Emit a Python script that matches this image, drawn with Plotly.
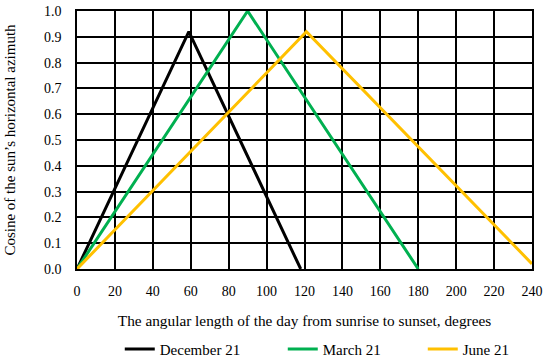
import plotly.graph_objects as go

dec_x = [0, 59, 118]
dec_y = [0, 0.92, 0]
mar_x = [0, 90, 180]
mar_y = [0, 1.0, 0]
jun_x = [0, 121, 240]
jun_y = [0, 0.92, 0.02]

x_ticks = list(range(0, 241, 20))
y_ticks = [round(i * 0.1, 1) for i in range(11)]
y_labels = [f"{v:.1f}" for v in y_ticks]

FONT = "Liberation Serif"

fig = go.Figure()
fig.add_trace(go.Scatter(x=dec_x, y=dec_y, mode="lines", name="December 21",
                         line=dict(color="#000000", width=3), legendwidth=118))
fig.add_trace(go.Scatter(x=mar_x, y=mar_y, mode="lines", name="March 21",
                         line=dict(color="#00B050", width=3), legendwidth=95))
fig.add_trace(go.Scatter(x=jun_x, y=jun_y, mode="lines", name="June 21",
                         line=dict(color="#FFC000", width=3)))

fig.update_layout(
    width=550, height=363,
    margin=dict(l=77, r=18, t=11, b=94),
    paper_bgcolor="white", plot_bgcolor="white",
    font=dict(family=FONT, size=14, color="#000000"),
    showlegend=True,
    legend=dict(orientation="h", x=0.094, xanchor="left",
                yref="container", y=0.038, yanchor="middle",
                font=dict(family=FONT, size=15), bgcolor="rgba(0,0,0,0)"),
    xaxis=dict(range=[0, 240], tickvals=x_ticks, showgrid=True, gridcolor="#000000",
               gridwidth=1.6, showline=True, linecolor="#000000", linewidth=1.6,
               mirror=True, zeroline=False, ticks="", automargin=False,
               ticklabelstandoff=8,
               title=dict(text="The angular length of the day from sunrise to sunset, degrees",
                          font=dict(family=FONT, size=15.3), standoff=18),
               tickfont=dict(family=FONT, size=14)),
    yaxis=dict(range=[0, 1.0], tickvals=y_ticks, ticktext=y_labels, showgrid=True,
               gridcolor="#000000", gridwidth=1.6, showline=True, linecolor="#000000",
               linewidth=1.6, mirror=True, zeroline=False, ticks="", automargin=False,
               ticklabelstandoff=11,
               title=dict(text="Cosine of the sun\u2019s horizontal azimuth",
                          font=dict(family=FONT, size=15), standoff=25),
               tickfont=dict(family=FONT, size=14)),
)

fig.write_html("out.html", config={"displayModeBar": False},
               post_script="document.body.style.margin='0';document.body.style.overflow='hidden';")
